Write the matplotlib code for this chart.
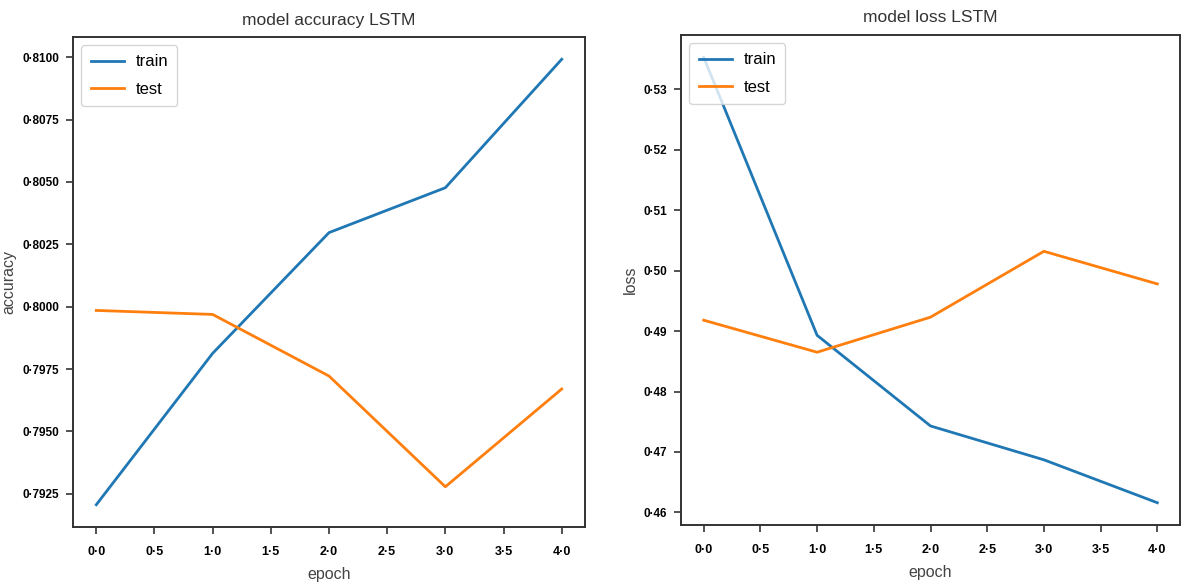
import matplotlib
matplotlib.use("Agg")
import matplotlib.pyplot as plt
from matplotlib.ticker import FuncFormatter

# данні з графіку
epochs = [0, 1, 2, 3, 4]
acc_train = [0.79206, 0.79813, 0.80297, 0.80477, 0.80992]
acc_test = [0.79985, 0.79969, 0.79722, 0.79278, 0.79670]
loss_train = [0.5353, 0.4893, 0.4743, 0.4687, 0.4616]
loss_test = [0.4918, 0.4865, 0.4923, 0.5032, 0.4978]
legend_labels = ["train", "test"]

plt.rcParams["font.family"] = ["Liberation Sans", "DejaVu Sans"]

fig = plt.figure(figsize=(11.9, 5.88), dpi=100)
ax1 = fig.add_axes([73 / 1190, 61 / 588, 512 / 1190, 490 / 588])
ax2 = fig.add_axes([681 / 1190, 63 / 588, 499 / 1190, 490 / 588])


def dot_fmt(decimals):
    return FuncFormatter(lambda v, pos: f"{v:.{decimals}f}".replace(".", "·"))


def style_axes(ax, title, ylabel, ydec, ylab_x):
    ax.set_title(title, fontsize=12.5, color="#333333", pad=9)
    ax.set_xlabel("epoch", fontsize=11.5, color="#444444", labelpad=6)
    ax.set_ylabel(ylabel, fontsize=11.5, color="#444444")
    ax.yaxis.set_label_coords(ylab_x, 0.5)
    ax.xaxis.set_major_formatter(dot_fmt(1))
    ax.yaxis.set_major_formatter(dot_fmt(ydec))
    ax.tick_params(axis="y", labelsize=8.5, length=5, width=1.2, color="#333333", pad=5)
    ax.tick_params(axis="x", labelsize=9, length=5, width=1.2, color="#333333", pad=9)
    for sp in ax.spines.values():
        sp.set_linewidth(1.4)
        sp.set_color("#333333")
    ax.legend(legend_labels, loc="upper left", fontsize=12, framealpha=0.8,
              edgecolor="#cccccc", handlelength=2.0, labelspacing=0.75,
              borderpad=0.55, handletextpad=0.7)


ax1.plot(epochs, acc_train, color="#1f77b4", linewidth=2)
ax1.plot(epochs, acc_test, color="#ff7f0e", linewidth=2)
ax1.set_yticks([0.7925, 0.7950, 0.7975, 0.8000, 0.8025, 0.8050, 0.8075, 0.8100])
style_axes(ax1, "model accuracy LSTM", "accuracy", 4, -0.111)

ax2.plot(epochs, loss_train, color="#1f77b4", linewidth=2)
ax2.plot(epochs, loss_test, color="#ff7f0e", linewidth=2)
ax2.set_yticks([0.46, 0.47, 0.48, 0.49, 0.50, 0.51, 0.52, 0.53])
style_axes(ax2, "model loss LSTM", "loss", 2, -0.086)

for ax in (ax1, ax2):
    ax.set_xticks([0, 0.5, 1, 1.5, 2, 2.5, 3, 3.5, 4])
    for lbl in ax.get_xticklabels() + ax.get_yticklabels():
        lbl.set_fontweight("bold")

fig.savefig("out.png", dpi=100)
